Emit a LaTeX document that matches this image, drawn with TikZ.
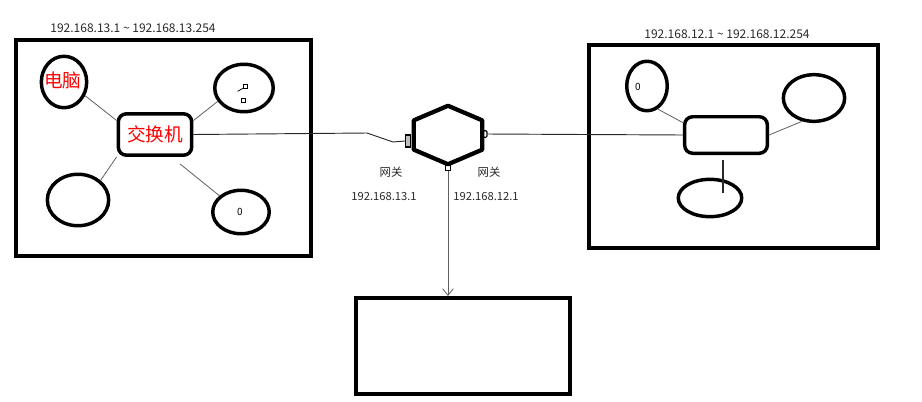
\documentclass[tikz,border=0pt]{standalone}
\usepackage{fontspec}
\setmainfont{Noto Sans CJK SC}
\usetikzlibrary{shapes.geometric, arrows.meta, positioning, calc}
\definecolor{NETred}{RGB}{255,0,0}
\definecolor{NETgrey}{RGB}{95,95,95}
\definecolor{NETdark}{RGB}{40,40,40}

\begin{document}
\begin{tikzpicture}[x=0.75pt, y=-0.75pt,
    lanbox/.style={draw, line width=3pt, inner sep=0pt},
    host/.style={ellipse, draw, line width=2.6pt, inner sep=0pt},
    switchbox/.style={draw, rounded corners=6pt, line width=2.6pt, inner sep=0pt,
      text=NETred, font=\fontsize{14}{16}\selectfont},
    port/.style={draw, line width=0.8pt, inner sep=0pt},
    link/.style={NETgrey, line width=0.6pt},
    uplink/.style={NETdark, line width=0.7pt},
    iplabel/.style={font=\fontsize{8.4}{10}\selectfont, text=NETdark},
    rangelabel/.style={font=\fontsize{9}{11}\selectfont, text=NETdark},
    tinytext/.style={font=\fontsize{7.5}{8}\selectfont}]
  \useasboundingbox (0,0) rectangle (922,401);

  % Left LAN 192.168.13.x
  \node[lanbox, minimum width=221pt, minimum height=162pt] (lanL) at (163.5,148) {};
  \node[rangelabel] (ipL) at (133,28) {192.168.13.1 \textasciitilde{} 192.168.13.254};
  \node[switchbox, minimum width=55pt, minimum height=31pt] (swL) at (155,134.5) {交换机};
  \node[host, minimum width=34pt, minimum height=38.6pt] (pc1) at (64,82) {};
  \node[text=NETred, font=\fontsize{14}{16}\selectfont] (pc1name) at (63,80) {电脑};
  \node[host, minimum width=43.9pt, minimum height=35.6pt] (pc2) at (244,88) {};
  \node[port, line width=0.6pt, minimum size=3pt] (pc2a) at (245,86) {};
  \node[port, line width=0.6pt, minimum size=3pt] (pc2b) at (243,100) {};
  \draw[line width=0.6pt] (pc2a.south west) -- ++(-5,3);
  \node[host, minimum width=46pt, minimum height=38.6pt] (pc3) at (78,200) {};
  \node[host, minimum width=42.4pt, minimum height=32.6pt] (pc4) at (241,212) {};
  \node[tinytext] (pc4name) at (240,212) {0};
  \draw[link] (pc1.-33) -- (swL.160);
  \draw[link] (pc2.207) -- (swL.20);
  \draw[link] (pc3.41) -- (swL.south west);
  \draw[link] ([shift={(-7,7)}]swL.-35) -- (pc4.143);

  % Gateway
  \node[minimum width=51pt, minimum height=43.5pt, inner sep=0pt] (gw) at (448,135) {};
  \draw[line width=3.2pt, line join=round] (gw.north)
    -- ($(gw.north east)!.25!(gw.south east)$)
    -- ($(gw.north east)!.75!(gw.south east)$)
    -- (gw.south)
    -- ($(gw.north west)!.75!(gw.south west)$)
    -- ($(gw.north west)!.25!(gw.south west)$) -- cycle;
  \node[port, fill=NETgrey!40, minimum width=3.75pt, minimum height=9pt] (pl) at (408,141) {};
  \node[port, rounded corners=1pt, minimum width=3pt, minimum height=5pt] (pr) at (485,134) {};
  \node[port, minimum width=3.75pt, minimum height=3.75pt] (pb) at (448,168) {};
  \node[font=\fontsize{8.5}{10}\selectfont, text=NETdark] (gwnameL) at (391,172) {网关};
  \node[font=\fontsize{8.5}{10}\selectfont, text=NETdark] (gwnameR) at (489,172) {网关};
  \node[iplabel] (gwipL) at (384,197) {192.168.13.1};
  \node[iplabel] (gwipR) at (486,197) {192.168.12.1};
  \draw[uplink] (swL.east) -- (367,133) -- (393,142) -- (pl.west);

  % Right LAN 192.168.12.x
  \node[lanbox, minimum width=216.75pt, minimum height=152pt] (lanR) at (733.5,146.5) {};
  \node[rangelabel] (ipR) at (727,34) {192.168.12.1 \textasciitilde{} 192.168.12.254};
  \node[switchbox, minimum width=62pt, minimum height=27.4pt] (swR) at (726,135) {};
  \node[host, minimum width=30.4pt, minimum height=37.1pt] (h5) at (647,86) {};
  \node[tinytext] (h5name) at (638,87) {0};
  \node[host, minimum width=46pt, minimum height=35pt] (h6) at (814,98) {};
  \node[host, minimum width=47.6pt, minimum height=28pt] (h7) at (710,198) {};
  \draw[link] (h5.-65) -- (swR.164);
  \draw[link] (swR.east) -- (h6.243);
  \draw[NETdark, line width=0.9pt] ([shift={(-3,5)}]swR.south) -- ([shift={(13,-5)}]h7.center);
  \draw[uplink] (pr.east) -- (swR.west);

  % Server
  \node[lanbox, minimum width=160.5pt, minimum height=72pt] (server) at (463,346) {};
  \draw[link, -{Straight Barb[length=5pt, width=8pt]}] (pb.south) -- (pb.south |- server.north);
\end{tikzpicture}
\end{document}
